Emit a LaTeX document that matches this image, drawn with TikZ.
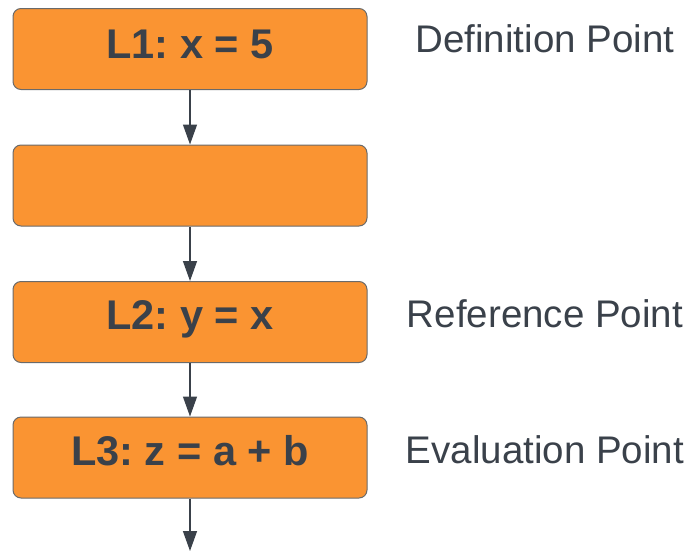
\documentclass[tikz,border=0pt]{standalone}
\usepackage{fontspec}
\setmainfont{Liberation Sans}
\usetikzlibrary{arrows.meta}
\definecolor{boxfill}{HTML}{FA9432}
\definecolor{boxline}{HTML}{6A6A6A}
\definecolor{ink}{HTML}{3A414A}
\frenchspacing
\begin{document}
\begin{tikzpicture}[x=1pt,y=-1pt,
  stepbox/.style={draw=boxline,line width=1pt,fill=boxfill,rounded corners=8pt,
    minimum width=354pt,minimum height=81pt,inner sep=0pt},
  code/.style={anchor=base,inner sep=0pt,text=ink,font=\fontsize{41.5}{48}\selectfont\bfseries},
  note/.style={anchor=base,inner sep=0pt,text=ink,font=\fontsize{38.5}{44}\selectfont},
  flow/.style={draw=ink,line width=1.4pt,-{Triangle[width=14pt,length=20pt]}}]
\useasboundingbox (0,0) rectangle (693,552);
% statement boxes
\node[stepbox] (b1) at (190,49) {};
\node[stepbox] (b2) at (190,185.5) {};
\node[stepbox] (b3) at (190,322) {};
\node[stepbox] (b4) at (190,457.5) {};
% statement text
\node[code] (t1) at (190,58) {L1: x = 5};
\node[code] (t3) at (190,329) {L2: y = x};
\node[code] (t4) at (190,465) {L3: z = a + b};
% side notes
\node[note] (n1) at (545,52) {Definition Point};
\node[note] (n3) at (545,327) {Reference Point};
\node[note] (n4) at (545,463) {Evaluation Point};
% control flow
\coordinate (out) at (190,551);
\draw[flow] (b1.south) -- (b2.north);
\draw[flow] (b2.south) -- (b3.north);
\draw[flow] (b3.south) -- (b4.north);
\draw[flow] (b4.south) -- (out);
\end{tikzpicture}
\end{document}
